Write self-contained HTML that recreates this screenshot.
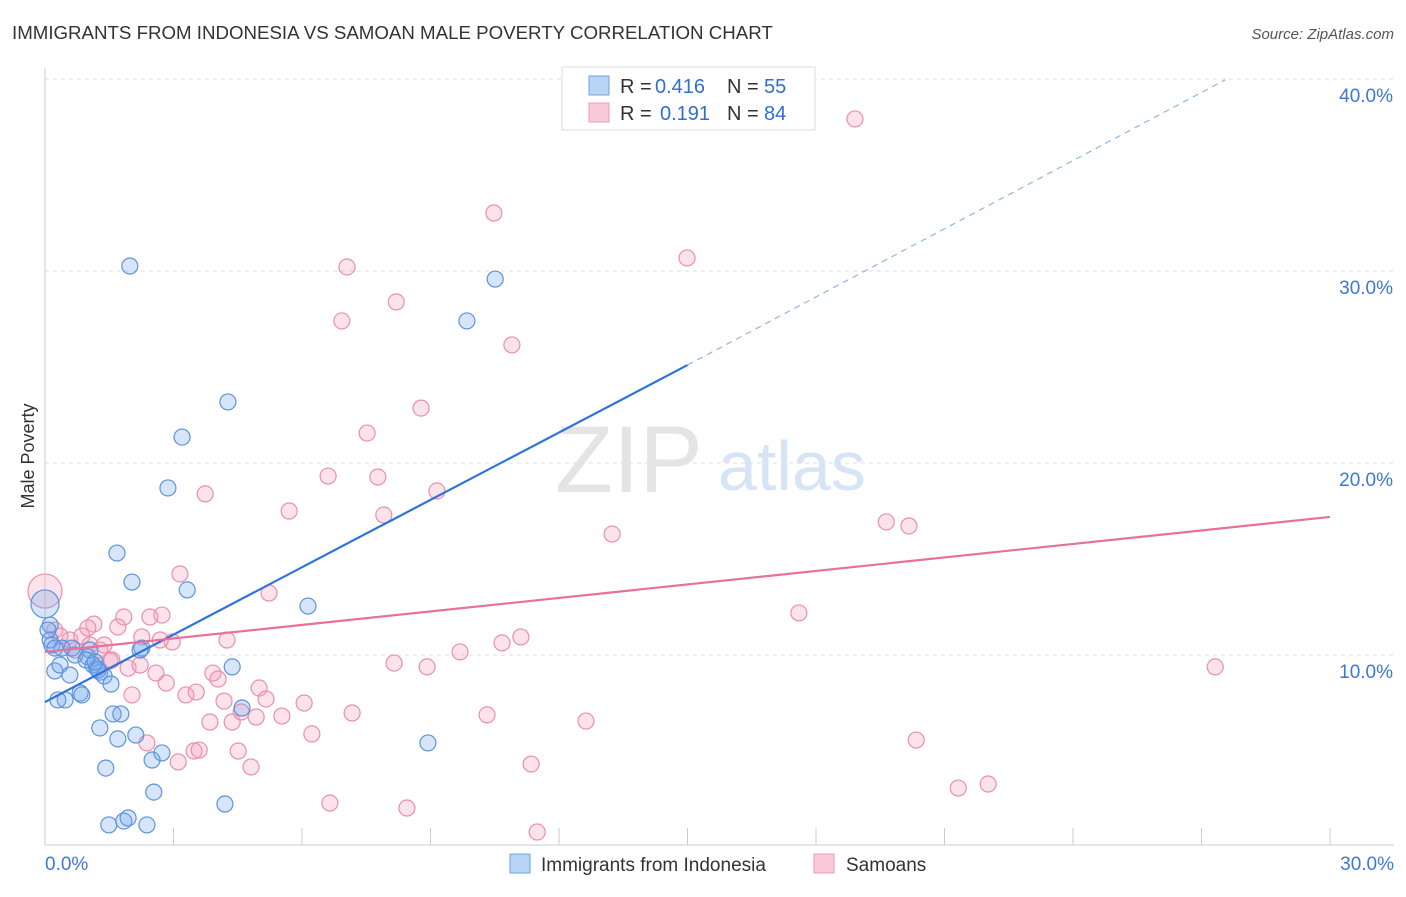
<!DOCTYPE html>
<html><head><meta charset="utf-8"><style>
body{margin:0;background:#fff;font-family:"Liberation Sans",sans-serif}
svg text{font-family:"Liberation Sans",sans-serif}
</style></head><body>
<svg id="chart" width="1406" height="892">
<text x="12" y="39" font-size="18.7" fill="#333">IMMIGRANTS FROM INDONESIA VS SAMOAN MALE POVERTY CORRELATION CHART</text>
<text x="1394" y="39" font-size="15" fill="#555" text-anchor="end" font-style="italic">Source: ZipAtlas.com</text>
<text transform="translate(34,456) rotate(-90)" font-size="18" fill="#333" text-anchor="middle">Male Poverty</text>
<g id="grid"></g>
<text x="555" y="492" font-size="95" fill="#e4e4e4" font-family="Liberation Serif">ZIP</text>
<text x="718" y="490" font-size="70" fill="#d6e4f5">atlas</text>
<g id="marks"></g>
<g>
<rect x="562" y="67" width="253" height="63" fill="#fff" stroke="#ddd"/>
<rect x="589" y="76" width="20" height="19" fill="#b8d4f5" stroke="#6fa3e0"/>
<rect x="589" y="103" width="20" height="19" fill="#fbcad8" stroke="#ee9ab5"/>
<text x="620" y="93" font-size="20" fill="#333">R =</text>
<text x="655" y="93" font-size="20" fill="#2f6fd0">0.416</text>
<text x="727" y="93" font-size="20" fill="#333">N =</text>
<text x="764" y="93" font-size="20" fill="#2f6fd0">55</text>
<text x="620" y="120" font-size="20" fill="#333">R =</text>
<text x="660" y="120" font-size="20" fill="#2f6fd0">0.191</text>
<text x="727" y="120" font-size="20" fill="#333">N =</text>
<text x="764" y="120" font-size="20" fill="#2f6fd0">84</text>
</g>
<g>
<rect x="510" y="854" width="20" height="19" fill="#b8d4f5" stroke="#6fa3e0"/>
<text x="541" y="871" font-size="19" fill="#333">Immigrants from Indonesia</text>
<rect x="814" y="854" width="20" height="19" fill="#fbcad8" stroke="#ee9ab5"/>
<text x="846" y="871" font-size="19" fill="#333">Samoans</text>
</g>
</svg>
<script>
const xTicks=[0,3,6,9,12,15,18,21,24,27,30];
const yTicks=[10,20,30,40];
const yTickLabels=["10.0%","20.0%","30.0%","40.0%"];
const xEndLabels=["0.0%","30.0%"];
const blueX=[1.98,10.51,9.85,4.27,3.2,2.87,1.68,2.03,3.32,6.14,0.12,0.16,0.23,0.35,0.47,0.58,0.7,0.82,0.86,1.0,1.05,1.12,1.21,1.28,1.38,1.54,1.59,1.77,1.28,1.7,2.12,1.42,2.5,2.73,2.54,1.49,1.84,1.94,2.38,4.2,4.6,4.37,2.26,8.94,0.4,0.63,0.96,1.17,0.12,2.22,0.3,1.24,0.07,0.23];
const blueY=[30.26,29.58,27.4,23.18,21.35,18.7,15.31,13.8,13.39,12.55,11.56,10.52,9.17,9.48,7.66,8.96,10,8.02,7.92,9.9,10.26,9.48,9.32,9.11,8.91,8.49,6.93,6.93,6.2,5.63,5.83,4.11,4.53,4.9,2.86,1.15,1.35,1.51,1.15,2.24,7.24,9.38,10.36,5.42,10.36,10.36,9.74,9.64,10.78,10.26,7.66,9.22,11.3,10.36];
const blueBig=[0,12.66];
const pinkX=[18.91,10.48,14.99,7.05,8.2,6.93,10.9,8.78,7.52,3.74,6.61,7.77,9.15,5.7,7.91,13.24,19.64,20.17,3.15,5.23,17.6,1.84,2.73,2.45,1.14,1.7,2.26,2.97,4.25,11.11,10.67,9.69,8.15,8.92,27.32,0.23,0.58,0.86,1.05,1.28,1.56,1.94,2.59,2.83,3.29,3.53,3.92,4.04,4.18,5.0,5.16,6.05,7.17,3.85,4.37,4.93,5.53,4.58,6.23,10.32,12.63,20.34,2.38,3.48,3.6,3.11,4.51,4.81,11.35,6.65,8.45,11.49,21.32,22.02,2.03,0.35,0.7,1.38,2.22,1.0,2.69,1.52];
const pinkY=[37.92,33.02,30.68,30.21,28.39,27.4,26.15,22.86,21.56,18.39,19.32,19.27,18.54,17.5,17.29,16.3,16.93,16.72,14.22,13.23,12.19,11.98,12.08,11.98,11.61,11.46,10.94,10.68,10.78,10.94,10.63,10.16,9.58,9.38,9.38,11.3,10.78,10.99,10.52,10.26,9.74,9.32,9.06,8.54,7.92,8.07,9.06,8.75,7.6,8.28,7.71,7.5,6.98,6.51,6.51,6.77,6.82,7.03,5.89,6.88,6.56,5.57,5.42,5.0,5.05,4.43,5.0,4.17,4.32,2.29,2.03,0.78,3.07,3.28,7.92,10.99,10.26,10.52,9.48,11.41,10.78,9.69];
const pinkBig=[0,13.33];
const blueTrend=[[0,7.55],[15,25.1]];
const blueDash=[[15,25.1],[27.55,39.95]];
const pinkTrend=[[0,10.16],[30,17.19]];
const X=v=>45+v*(1285/30), Y=v=>847-v*19.2;
const NS="http://www.w3.org/2000/svg";
const grid=document.getElementById('grid'), marks=document.getElementById('marks');
function mk(tag,attrs,parent){const e=document.createElementNS(NS,tag);for(const k in attrs)e.setAttribute(k,attrs[k]);parent.appendChild(e);return e;}
yTicks.forEach((t,i)=>{
 const l=mk('line',{x1:45,x2:1394,y1:Y(t),y2:Y(t),stroke:'#ddd','stroke-dasharray':'4,4'},grid);
 
 
 const tx=mk('text',{x:1393,y:Y(t)+23,'font-size':19,fill:'#3b78d8','text-anchor':'end'},grid);
 tx.textContent=yTickLabels[i];
 
 
});
const ax=mk('line',{x1:45,x2:1394,y1:845,y2:845,stroke:'#ccc'},grid);


const ay=mk('line',{x1:45,x2:45,y1:68,y2:845,stroke:'#ccc'},grid);


xTicks.forEach(t=>{
 const l=mk('line',{x1:X(t),x2:X(t),y1:828,y2:845,stroke:'#ccc'},grid);
 
 
});
const xl0=mk('text',{x:45,y:870,'font-size':19,fill:'#3b78d8'},grid);xl0.textContent=xEndLabels[0];


const xl1=mk('text',{x:1394,y:870,'font-size':19,fill:'#3b78d8','text-anchor':'end'},grid);xl1.textContent=xEndLabels[1];


function dot(x,y,r,c,name){
 const e=mk('circle',{cx:X(x),cy:Y(y),r:r,fill:c[0],stroke:c[1],'stroke-width':1.2},marks);
 
 
}
const BC=['rgba(120,170,235,0.3)','#5b93dc'], PC=['rgba(245,160,190,0.3)','#ea8fae'];
pinkX.forEach((x,i)=>dot(x,pinkY[i],8,PC,'samoan-point'));
dot(pinkBig[0],pinkBig[1],17,PC,'samoan-point');
blueX.forEach((x,i)=>dot(x,blueY[i],8,BC,'indonesia-point'));
dot(blueBig[0],blueBig[1],14,BC,'indonesia-point');
function line(p,c,dash,w,name){
 const e=mk('line',{x1:X(p[0][0]),y1:Y(p[0][1]),x2:X(p[1][0]),y2:Y(p[1][1]),stroke:c,'stroke-width':w},marks);
 if(dash)e.setAttribute('stroke-dasharray',dash);
 
 
}
line(blueTrend,'#2f74d8',null,2.2,'indonesia-trendline');
line(blueDash,'#8fb4e6','6,5',1.2,'indonesia-trendline-extension');
line(pinkTrend,'#e8709a',null,2.2,'samoan-trendline');
</script>
</body></html>
